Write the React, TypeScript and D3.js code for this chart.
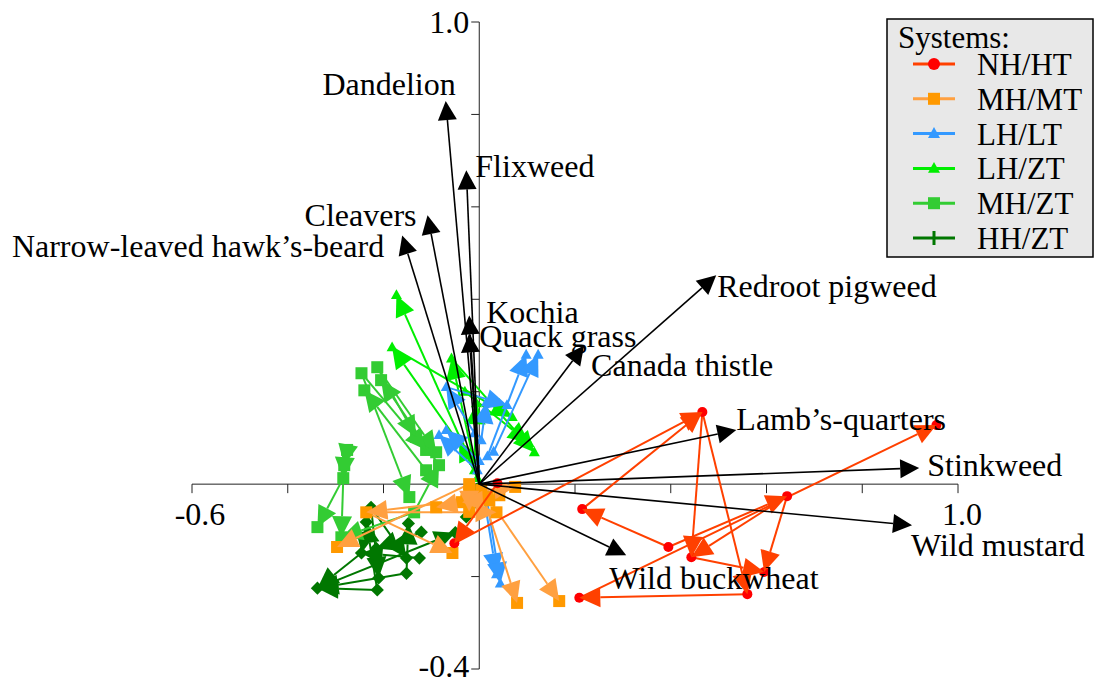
import React from 'react';
import * as d3 from 'd3';

// ---- axes ----
const X_DOMAIN = [-0.6, 1.0];
const Y_DOMAIN = [-0.4, 1.0];
const X_TICKS = [-0.6, -0.4, -0.2, 0, 0.2, 0.4, 0.6, 0.8, 1.0];
const Y_TICKS = [-0.4, -0.2, 0, 0.2, 0.4, 0.6, 0.8, 1.0];
const X_TICK_LABELS = ['-0.6', '1.0'];
const Y_TICK_LABELS = ['-0.4', '1.0'];

// ---- species vectors ----
const SPECIES = ['Dandelion', 'Flixweed', 'Cleavers', 'Narrow-leaved hawk\u2019s-beard', 'Kochia', 'Quack grass',
  'Canada thistle', 'Redroot pigweed', 'Lamb\u2019s-quarters', 'Stinkweed', 'Wild mustard', 'Wild buckwheat'];
const SPECIES_X = [-0.070, -0.027, -0.108, -0.161, -0.021, -0.021, 0.219, 0.495, 0.537, 0.919, 0.904, 0.307];
const SPECIES_Y = [0.829, 0.679, 0.582, 0.538, 0.365, 0.326, 0.300, 0.452, 0.117, 0.035, -0.089, -0.154];

// ---- systems ----
const SYSTEMS = ['NH/HT', 'MH/MT', 'LH/LT', 'LH/ZT', 'MH/ZT', 'HH/ZT'];

const NH_HT_X = [0.038, -0.052, 0.466, 0.955, 0.215, 0.643, 0.395, 0.443, 0.595, 0.560, 0.209];
const NH_HT_Y = [0.002, -0.128, 0.156, 0.128, -0.054, -0.026, -0.136, -0.158, -0.190, -0.238, -0.246];
const NH_HT_ARROWS = [[0, 1], [1, 2], [4, 2], [2, 7], [2, 9], [6, 4], [6, 5], [5, 7], [5, 8], [7, 8], [9, 10], [10, 3]];

const MH_MT_X = [-0.236, -0.297, -0.056, 0.079, 0.167, 0.075, 0.004, 0.017, -0.027, -0.021, 0.042, -0.090, -0.021, 0.036, -0.021, 0.021, -0.036];
const MH_MT_Y = [-0.061, -0.136, -0.149, -0.257, -0.253, -0.006, -0.013, -0.028, -0.035, 0.000, -0.024, -0.050, -0.017, -0.061, -0.060, -0.035, -0.039];
const MH_MT_ARROWS = [[6, 3], [7, 4], [8, 0], [0, 2], [9, 1], [10, 11], [0, 13], [12, 5], [9, 14], [15, 16]];

const LH_LT_X = [0.006, 0.036, 0.013, 0.044, -0.004, -0.084, 0.000, -0.069, 0.017, 0.098, 0.030, 0.123, -0.010, -0.069, 0.058, 0.004, 0.015];
const LH_LT_Y = [-0.004, -0.195, -0.013, -0.215, 0.030, 0.106, 0.050, 0.117, 0.060, 0.280, 0.070, 0.280, 0.110, 0.210, 0.171, 0.095, 0.177];
const LH_LT_ARROWS = [[0, 1], [2, 3], [4, 5], [6, 7], [8, 9], [10, 11], [12, 13], [13, 14], [15, 16]];

const LH_ZT_X = [-0.010, -0.173, -0.025, -0.182, 0.069, -0.058, 0.115, -0.004, -0.042, -0.030, 0.104, -0.010, -0.006];
const LH_ZT_Y = [0.030, 0.409, 0.063, 0.296, 0.145, 0.272, 0.069, 0.013, 0.095, 0.200, 0.089, 0.050, 0.175];
const LH_ZT_ARROWS = [[0, 1], [2, 3], [3, 4], [5, 6], [7, 5], [7, 8], [9, 10], [11, 12]];

const MH_ZT_X = [-0.246, -0.213, -0.276, -0.282, -0.284, -0.338, -0.288, -0.136, -0.084, -0.146, -0.090, -0.111, -0.205, -0.132, -0.240, -0.111];
const MH_ZT_Y = [0.240, 0.253, 0.074, 0.041, 0.013, -0.093, -0.115, -0.061, 0.041, -0.028, 0.069, 0.074, 0.225, 0.102, 0.203, 0.030];
const MH_ZT_ARROWS = [[0, 9], [1, 10], [0, 11], [8, 12], [15, 14], [2, 3], [3, 4], [4, 6], [4, 5], [7, 6], [1, 13], [7, 8]];

const HH_ZT_X = [-0.226, -0.121, -0.125, -0.152, -0.213, -0.338, -0.246, -0.050, -0.236, -0.148, -0.215, -0.152, -0.210, -0.004, -0.027];
const HH_ZT_Y = [-0.050, -0.104, -0.160, -0.193, -0.229, -0.225, -0.149, -0.105, -0.082, -0.085, -0.139, -0.160, -0.203, -0.010, -0.071];
const HH_ZT_ARROWS = [[5, 7], [4, 5], [3, 5], [6, 5], [0, 6], [4, 8], [3, 9], [1, 10], [0, 11], [0, 12], [2, 6], [13, 14]];

const SERIES_X = [NH_HT_X, MH_MT_X, LH_LT_X, LH_ZT_X, MH_ZT_X, HH_ZT_X];
const SERIES_Y = [NH_HT_Y, MH_MT_Y, LH_LT_Y, LH_ZT_Y, MH_ZT_Y, HH_ZT_Y];
const SERIES_ARROWS = [NH_HT_ARROWS, MH_MT_ARROWS, LH_LT_ARROWS, LH_ZT_ARROWS, MH_ZT_ARROWS, HH_ZT_ARROWS];

// ---- styles ----
const LINE_COLORS = ['#FF4000', '#FFA040', '#3399FF', '#00EE00', '#33CC33', '#007700'];
const MARK_COLORS = ['#FF0000', '#FF9900', '#3399FF', '#00EE00', '#33CC33', '#007700'];
const MARK_SHAPES = ['circle', 'square', 'triangle', 'triangle', 'square', 'diamond'];
const LABEL_OFFSETS: [number, number, string][] = [
  [10, -6, 'end'], [9, 7, 'start'], [-11, 11, 'end'], [-18, 21, 'end'], [17, 8, 'start'], [10, 14, 'start'],
  [7, 30, 'start'], [1, 22, 'start'], [0, 0, 'start'], [8, 8, 'start'], [-1, 31, 'start'], [-17, 34, 'start'],
];
const DRAW_ORDER = [5, 4, 3, 2, 1, 0];
const FONT = '"Liberation Serif", "Times New Roman", serif';

function arrowHead(x1: number, y1: number, x2: number, y2: number, L: number, W: number) {
  const dx = x2 - x1, dy = y2 - y1;
  const len = Math.hypot(dx, dy) || 1;
  const ux = dx / len, uy = dy / len;
  const bx = x2 - ux * L, by = y2 - uy * L;
  const px = -uy * W, py = ux * W;
  return { pts: `${x2},${y2} ${bx + px},${by + py} ${bx - px},${by - py}`, bx, by };
}

function Marker({ shape, x, y, color, s }: { shape: string; x: number; y: number; color: string; s: number }) {
  if (shape === 'circle') return <circle cx={x} cy={y} r={s * 0.5} fill={color} />;
  if (shape === 'square') return <rect x={x - s / 2} y={y - s / 2} width={s} height={s} fill={color} />;
  if (shape === 'triangle') {
    const h = s * 0.9;
    return <polygon points={`${x},${y - h * 0.6} ${x + s / 2},${y + h * 0.4} ${x - s / 2},${y + h * 0.4}`} fill={color} />;
  }
  return <polygon points={`${x},${y - s * 0.6} ${x + s * 0.6},${y} ${x},${y + s * 0.6} ${x - s * 0.6},${y}`} fill={color} />;
}

export default function App() {
  const W = 1095, H = 681;
  const x = d3.scaleLinear().domain(X_DOMAIN).range([192, 958]);
  const y = d3.scaleLinear().domain(Y_DOMAIN).range([669, 22]);
  const x0 = x(0), y0 = y(0);

  const markerSizes = [10, 12, 11, 11, 12, 11];

  return (
    <svg width={W} height={H} style={{ position: 'absolute', left: 0, top: 0, background: '#fff' }} fontFamily={FONT}>
      {/* axes */}
      <line x1={x(X_DOMAIN[0])} x2={x(X_DOMAIN[1])} y1={y0} y2={y0} stroke="#222" strokeWidth={1} />
      <line x1={x0} x2={x0} y1={y(Y_DOMAIN[0])} y2={y(Y_DOMAIN[1])} stroke="#222" strokeWidth={1} />
      {X_TICKS.map((t, i) => (
        <line key={'xt' + i} x1={x(t)} x2={x(t)} y1={y0} y2={y0 + 9} stroke="#222" strokeWidth={1} />
      ))}
      {Y_TICKS.map((t, i) => (
        <line key={'yt' + i} x1={x0 - 8} x2={x0} y1={y(t)} y2={y(t)} stroke="#222" strokeWidth={1} />
      ))}
      <text x={x(X_DOMAIN[0]) + 8} y={y0 + 41} fontSize={32} textAnchor="middle">{X_TICK_LABELS[0]}</text>
      <text x={x(X_DOMAIN[1]) + 4} y={y0 + 41} fontSize={32} textAnchor="middle">{X_TICK_LABELS[1]}</text>
      <text x={x0 - 10} y={y(Y_DOMAIN[0]) + 8} fontSize={32} textAnchor="end">{Y_TICK_LABELS[0]}</text>
      <text x={x0 - 10} y={y(Y_DOMAIN[1]) + 11} fontSize={32} textAnchor="end">{Y_TICK_LABELS[1]}</text>

      {/* system trajectories */}
      {DRAW_ORDER.map((si) => {
        const xs = SERIES_X[si], ys = SERIES_Y[si];
        return (
          <g key={'s' + si}>
            {SERIES_ARROWS[si].map(([a, b], k) => {
              const X1 = x(xs[a]), Y1 = y(ys[a]), X2 = x(xs[b]), Y2 = y(ys[b]);
              const ah = arrowHead(X1, Y1, X2, Y2, 21, 10);
              return <line key={k} x1={X1} y1={Y1} x2={ah.bx} y2={ah.by} stroke={LINE_COLORS[si]} strokeWidth={2} />;
            })}
            {xs.map((_, k) => (
              <Marker key={'m' + k} shape={MARK_SHAPES[si]} x={x(xs[k])} y={y(ys[k])} color={MARK_COLORS[si]} s={markerSizes[si]} />
            ))}
            {SERIES_ARROWS[si].map(([a, b], k) => {
              const X1 = x(xs[a]), Y1 = y(ys[a]), X2 = x(xs[b]), Y2 = y(ys[b]);
              const ah = arrowHead(X1, Y1, X2, Y2, 21, 10);
              return <polygon key={'h' + k} points={ah.pts} fill={LINE_COLORS[si]} />;
            })}
          </g>
        );
      })}

      {/* species vectors */}
      {SPECIES.map((name, i) => {
        const X2 = x(SPECIES_X[i]), Y2 = y(SPECIES_Y[i]);
        const ah = arrowHead(x0, y0, X2, Y2, 19, 9.5);
        return (
          <g key={'v' + i}>
            <line x1={x0} y1={y0} x2={ah.bx} y2={ah.by} stroke="#000" strokeWidth={1.6} />
            <polygon points={ah.pts} fill="#000" />
          </g>
        );
      })}
      {SPECIES.map((name, i) => {
        const X2 = x(SPECIES_X[i]), Y2 = y(SPECIES_Y[i]);
        const [dx, dy, anchor] = LABEL_OFFSETS[i];
        return (
          <text key={'l' + i} x={X2 + dx} y={Y2 + dy} fontSize={32} textAnchor={anchor as any} fill="#000">{name}</text>
        );
      })}

      {/* legend */}
      <g>
        <rect x={887} y={19} width={206} height={238} fill="#E8E8E8" stroke="#000" strokeWidth={1.5} />
        <text x={898} y={48} fontSize={31}>Systems:</text>
        {SYSTEMS.map((s, i) => {
          const cy = 64 + i * 34.8;
          return (
            <g key={'lg' + i}>
              <line x1={913} x2={955} y1={cy} y2={cy} stroke={LINE_COLORS[i]} strokeWidth={3} />
              {MARK_SHAPES[i] === 'diamond' ? (
                <line x1={934} x2={934} y1={cy - 7} y2={cy + 7} stroke={MARK_COLORS[i]} strokeWidth={3} />
              ) : (
                <Marker shape={MARK_SHAPES[i]} x={934} y={cy} color={MARK_COLORS[i]} s={12} />
              )}
              <text x={977} y={cy + 11} fontSize={31}>{s}</text>
            </g>
          );
        })}
      </g>
    </svg>
  );
}
